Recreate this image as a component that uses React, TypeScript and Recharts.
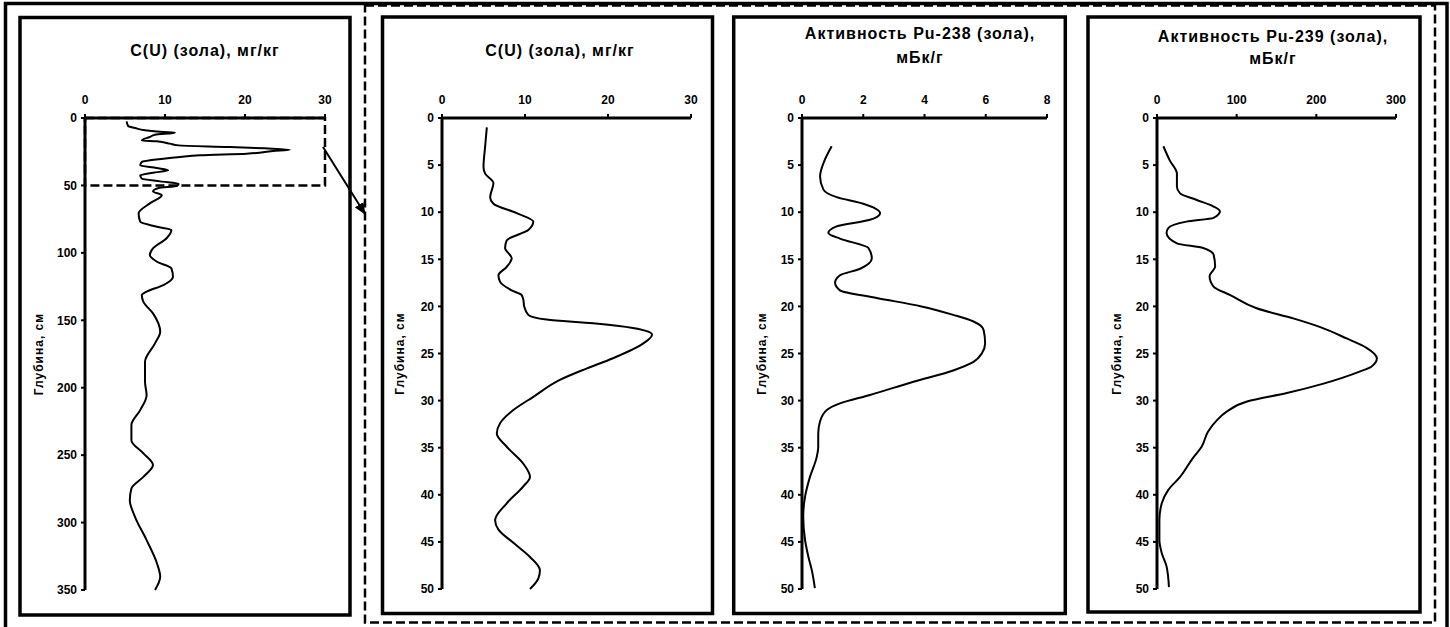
import React from "react";
import { LineChart, Line, XAxis, YAxis, ReferenceArea } from "recharts";

const FONT = 'Arial, "Liberation Sans", sans-serif';

// U (ash), full core 0–350 cm
const uDepthFull = [2.5, 6, 7.4, 9.1, 10.4, 10.9, 12.4, 14.1, 16.6, 17.3, 19, 20.3, 21.5, 22.5, 23.5, 24.5, 26.5, 27.7, 28.9, 30.2, 32.6, 35.1, 37.1, 38.8, 40.6, 42.5, 45, 47, 48.7, 50.4, 51.9, 54.4, 57.3, 63.3, 70.7, 76.9, 80.6, 83.1, 89.2, 96.7, 101.6, 106.6, 111.5, 117.7, 123.9, 128.8, 131.3, 136.3, 144.9, 158.5, 167.1, 180.8, 195.6, 205.5, 216.6, 227.7, 238.9, 248.7, 257.4, 266.1, 274.7, 283.4, 295.7, 313, 330.3, 340.2, 350];
const uFull = [5.2, 5.4, 6.25, 7.5, 9.8, 11.25, 8.75, 8.1, 7.1, 8.96, 10.6, 11.7, 18, 22.5, 25.6, 23.5, 20.2, 14.4, 11.9, 9.8, 7.1, 6.9, 8.96, 10.4, 8.5, 6.9, 7.1, 9.4, 11.7, 11.5, 9.2, 8.5, 9.6, 8.1, 6.7, 6.9, 9.0, 10.8, 10.2, 8.5, 8.1, 9.0, 10.8, 11.0, 9.8, 7.7, 7.1, 7.3, 8.5, 9.4, 8.75, 7.5, 7.5, 7.7, 6.9, 5.8, 5.8, 7.3, 8.5, 7.3, 5.8, 5.6, 6.25, 7.7, 9.0, 9.4, 8.75];

// U (ash), upper 0–50 cm
const uDepth = [1, 3, 5.2, 5.9, 6.9, 8.4, 9.1, 10.1, 11.0, 11.9, 13.0, 13.8, 14.9, 15.8, 16.7, 17.4, 18.3, 18.8, 19.3, 20.0, 20.9, 21.4, 21.8, 22.3, 23.0, 23.9, 25.5, 26.6, 27.8, 29.6, 31.0, 32.4, 33.5, 34.9, 36.7, 38.1, 39.1, 40.9, 42.7, 43.7, 45.1, 46.6, 48.0, 48.9, 50.0];
const uValue = [5.4, 5.2, 5.0, 5.2, 6.2, 5.8, 6.2, 9.0, 11.0, 10.4, 7.8, 7.6, 8.4, 7.8, 6.8, 7.0, 8.4, 9.6, 9.8, 9.9, 10.4, 12.6, 18.2, 23.0, 25.3, 24.3, 20.6, 17.4, 14.2, 11.0, 8.6, 7.0, 6.6, 7.8, 9.8, 10.6, 9.8, 7.8, 6.4, 6.8, 8.6, 10.6, 11.8, 11.6, 10.6];

// Pu-238 activity
const pu238Depth = [3.0, 4.8, 6.2, 7.6, 8.4, 9.1, 10.1, 10.8, 11.5, 12.2, 12.8, 13.8, 14.9, 16.0, 16.7, 17.5, 18.3, 19.1, 20.0, 20.9, 21.6, 22.5, 23.9, 25.0, 25.9, 26.8, 28.0, 29.4, 30.3, 31.0, 32.2, 33.5, 34.9, 36.0, 38.1, 40.2, 42.3, 44.8, 46.6, 48.0, 49.9];
const pu238 = [0.97, 0.7, 0.59, 0.7, 1.13, 2.0, 2.55, 2.22, 1.13, 0.86, 1.24, 2.17, 2.28, 1.9, 1.24, 1.08, 1.24, 2.44, 3.9, 4.94, 5.6, 5.93, 5.98, 5.87, 5.6, 4.94, 3.64, 2.22, 1.24, 0.81, 0.59, 0.53, 0.53, 0.48, 0.26, 0.1, 0.04, 0.1, 0.21, 0.32, 0.42];

// Pu-239 activity
const pu239Depth = [3.0, 4.5, 5.9, 7.3, 8.0, 8.7, 9.4, 9.9, 10.6, 11.0, 11.7, 12.2, 13.3, 13.8, 14.5, 15.8, 16.1, 16.8, 17.9, 18.8, 20.2, 21.3, 22.2, 23.4, 24.4, 25.5, 26.4, 26.9, 28.2, 29.2, 30.1, 31.2, 32.1, 33.3, 34.9, 36.1, 38.1, 39.5, 40.9, 42.7, 44.8, 46.2, 47.6, 49.8];
const pu239 = [8, 16, 25, 25, 29, 50, 71, 79, 71, 37, 14, 12, 25, 58, 71, 73, 71, 66, 71, 92, 125, 172, 205, 238, 263, 276, 269, 255, 209, 163, 113, 87, 75, 64, 56, 45, 29, 14, 6, 3, 3, 6, 12, 15];

const ticksU = [0, 10, 20, 30];
const ticksPu238 = [0, 2, 4, 6, 8];
const ticksPu239 = [0, 100, 200, 300];
const depthTicksFull = [0, 50, 100, 150, 200, 250, 300, 350];
const depthTicks50 = [0, 5, 10, 15, 20, 25, 30, 35, 40, 45, 50];

const titleU = "C(U) (зола), мг/кг";
const titlePu238 = ["Активность Pu-238 (зола),", "мБк/г"];
const titlePu239 = ["Активность Pu-239 (зола),", "мБк/г"];
const depthLabel = "Глубина, см";

const zip = (depth: number[], value: number[]) =>
  depth.map((d, i) => ({ depth: d, value: value[i] }));

const tickStyle = { fill: "#000", fontSize: 12, fontWeight: "bold", fontFamily: FONT };

interface DepthChartProps {
  data: { depth: number; value: number }[];
  plot: [number, number, number, number];
  xTicks: number[];
  yTicks: number[];
  yAxisWidth: number;
  zoomBox?: boolean;
}

function DepthChart({ data, plot, xTicks, yTicks, yAxisWidth, zoomBox }: DepthChartProps) {
  const [l, t, r, b] = plot;
  const ml = 4;
  const mr = 20;
  const xh = 30;
  const width = ml + yAxisWidth + (r - l) + mr;
  return (
    <div style={{ position: "absolute", left: l - yAxisWidth - ml, top: 0 }}>
      <LineChart
        layout="vertical"
        width={width}
        height={627}
        data={data}
        margin={{ top: t - xh, right: mr, bottom: 627 - b, left: ml }}
      >
        <XAxis
          type="number"
          dataKey="value"
          orientation="top"
          domain={[xTicks[0], xTicks[xTicks.length - 1]]}
          ticks={xTicks}
          interval={0}
          height={xh}
          tick={tickStyle}
          tickSize={4}
          tickMargin={10}
          tickLine={{ stroke: "#000", strokeWidth: 2 }}
          axisLine={{ stroke: "#000", strokeWidth: 3 }}
        />
        <YAxis
          type="number"
          dataKey="depth"
          domain={[0, yTicks[yTicks.length - 1]]}
          ticks={yTicks}
          interval={0}
          width={yAxisWidth}
          tick={tickStyle}
          tickSize={4}
          tickMargin={4}
          tickLine={{ stroke: "#000", strokeWidth: 2 }}
          axisLine={{ stroke: "#000", strokeWidth: 3 }}
          label={{
            value: depthLabel,
            angle: -90,
            position: "center",
            fill: "#000",
            fontSize: 12,
            fontWeight: "bold",
            fontFamily: FONT,
            letterSpacing: 1,
          }}
        />
        {zoomBox && (
          <ReferenceArea
            x1={0}
            x2={30}
            y1={0}
            y2={50}
            fill="none"
            stroke="#000"
            strokeWidth={2.5}
            strokeDasharray="9 4"
          />
        )}
        <Line
          type="monotone"
          dataKey="value"
          stroke="#000"
          strokeWidth={2}
          dot={false}
          isAnimationActive={false}
        />
      </LineChart>
    </div>
  );
}

const titleStyle = { fontFamily: FONT, fontSize: 16, fontWeight: "bold", letterSpacing: 1 } as const;

export default function App() {
  return (
    <div
      style={{
        position: "absolute",
        left: 0,
        top: 0,
        width: 1450,
        height: 627,
        overflow: "hidden",
        background: "#fff",
      }}
    >
      <DepthChart data={zip(uDepthFull, uFull)} plot={[85, 118, 325, 590]} xTicks={ticksU} yTicks={depthTicksFull} yAxisWidth={92} zoomBox />
      <DepthChart data={zip(uDepth, uValue)} plot={[442, 118, 691, 589]} xTicks={ticksU} yTicks={depthTicks50} yAxisWidth={84} />
      <DepthChart data={zip(pu238Depth, pu238)} plot={[802, 118, 1047, 589]} xTicks={ticksPu238} yTicks={depthTicks50} yAxisWidth={80} />
      <DepthChart data={zip(pu239Depth, pu239)} plot={[1157, 118, 1396, 589]} xTicks={ticksPu239} yTicks={depthTicks50} yAxisWidth={80} />

      <svg
        width={1450}
        height={627}
        style={{ position: "absolute", left: 0, top: 0, pointerEvents: "none" }}
      >
        <defs>
          <marker id="arrowHead" markerUnits="userSpaceOnUse" markerWidth={12} markerHeight={10} refX={11} refY={5} orient="auto">
            <path d="M0,0 L12,5 L0,10 z" fill="#000" />
          </marker>
        </defs>
        {/* outer frame */}
        <rect x={5.5} y={3.5} width={1441.5} height={640} fill="none" stroke="#000" strokeWidth={3.5} />
        {/* dashed group around zoomed panels */}
        <rect x={365} y={5.5} width={1070} height={617} fill="none" stroke="#000" strokeWidth={2.5} strokeDasharray="9 4" />
        {/* panel frames */}
        <rect x={20} y={17.5} width={330} height={597.5} fill="none" stroke="#000" strokeWidth={3.5} />
        <rect x={382.5} y={17} width={330} height={596.5} fill="none" stroke="#000" strokeWidth={3.5} />
        <rect x={733.7} y={17} width={331.6} height={596.5} fill="none" stroke="#000" strokeWidth={3.5} />
        <rect x={1088} y={17} width={332} height={595} fill="none" stroke="#000" strokeWidth={3.5} />
        {/* arrow */}
        <line x1={323} y1={147} x2={365} y2={214} stroke="#000" strokeWidth={2} markerEnd="url(#arrowHead)" />
        {/* titles */}
        <text x={205} y={56} textAnchor="middle" style={titleStyle}>{titleU}</text>
        <text x={560} y={56} textAnchor="middle" style={titleStyle}>{titleU}</text>
        <text x={920} y={39} textAnchor="middle" style={titleStyle}>{titlePu238[0]}</text>
        <text x={920} y={63} textAnchor="middle" style={titleStyle}>{titlePu238[1]}</text>
        <text x={1273} y={42} textAnchor="middle" style={titleStyle}>{titlePu239[0]}</text>
        <text x={1273} y={64} textAnchor="middle" style={titleStyle}>{titlePu239[1]}</text>
      </svg>
    </div>
  );
}
